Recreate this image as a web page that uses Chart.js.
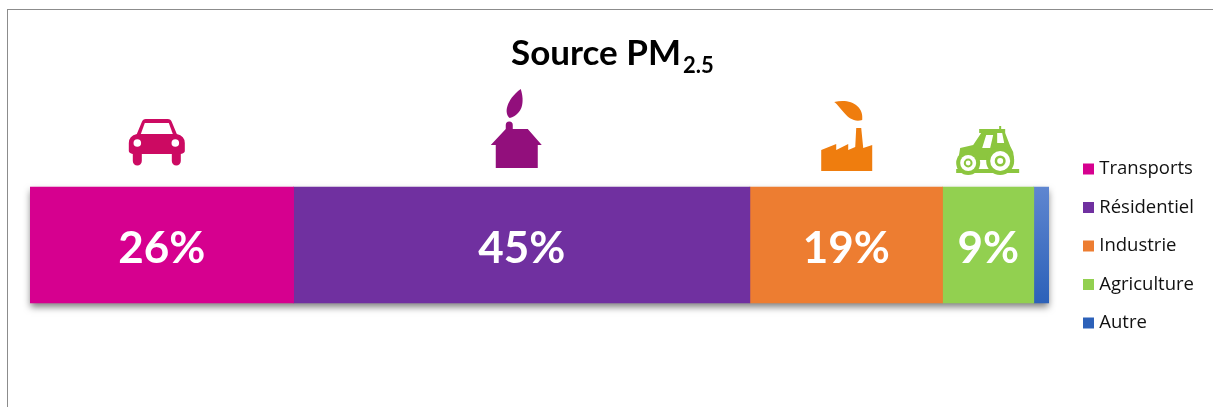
<!DOCTYPE html>
<html lang="fr">
<head>
<meta charset="utf-8">
<title>Source PM2.5</title>
<script src="https://cdn.jsdelivr.net/npm/chart.js@4"></script>
<style>
  html, body { margin: 0; padding: 0; background: #fff; }
  #wrap { position: relative; width: 1213px; height: 407px; overflow: hidden; }
  #frame { position: absolute; left: 7px; top: 9px; width: 1300px; height: 500px;
           border-left: 1px solid #8c8c8c; border-top: 1px solid #8c8c8c; }
  canvas { position: absolute; left: 0; top: 0; }
</style>
</head>
<body>
<div id="wrap">
  <div id="frame"></div>
  <canvas id="chart" width="1213" height="407"></canvas>
</div>
<script>
// Data
const categories = ['Source PM2.5'];
const sources = ['Transports', 'Résidentiel', 'Industrie', 'Agriculture', 'Autre'];
const shares = [26, 45, 19, 9, 1.5];
const colors = ['#d6008f', '#7030a0', '#ed7d31', '#92d050', '#4472c4'];
const iconColors = ['#cc0a62', '#920f7c', '#ef7d0e', '#8cc63f'];
const titleMain = 'Source PM';
const titleSub = '2.5';

const canvas = document.getElementById('chart');
const ctx = canvas.getContext('2d');
const total = shares.reduce((a, b) => a + b, 0);

// Last segment fades from light to dark blue
const autreFill = ctx.createLinearGradient(0, 187, 0, 303);
autreFill.addColorStop(0, '#5f86d0');
autreFill.addColorStop(1, '#2c61b9');
colors[4] = autreFill;

function car(c) {
  c.beginPath();
  c.moveTo(137, 134);
  c.lineTo(142, 122);
  c.quadraticCurveTo(143, 119, 146, 119);
  c.lineTo(168, 119);
  c.quadraticCurveTo(171, 119, 172, 122);
  c.lineTo(177, 134);
  c.quadraticCurveTo(185, 136, 185, 143);
  c.lineTo(185, 151);
  c.quadraticCurveTo(185, 153, 181, 154);
  c.lineTo(181, 161);
  c.arc(176.5, 161, 4.5, 0, Math.PI);
  c.lineTo(172, 154);
  c.lineTo(142, 154);
  c.lineTo(142, 161);
  c.arc(137.5, 161, 4.5, 0, Math.PI);
  c.lineTo(133, 154);
  c.quadraticCurveTo(129, 153, 129, 151);
  c.lineTo(129, 143);
  c.quadraticCurveTo(129, 136, 137, 134);
  c.closePath();
  c.fill();
  c.fillStyle = '#fff';
  c.beginPath();
  c.moveTo(141, 134);
  c.lineTo(145, 123);
  c.lineTo(169, 123);
  c.lineTo(173, 134);
  c.closePath();
  c.fill();
  c.beginPath();
  c.arc(137.5, 143, 3.8, 0, Math.PI * 2);
  c.arc(175.5, 143, 3.8, 0, Math.PI * 2);
  c.fill();
}

function house(c) {
  c.beginPath();
  c.moveTo(491, 145);
  c.lineTo(506, 129);
  c.lineTo(506, 126);
  c.arc(509.5, 125, 3.5, Math.PI, 0);
  c.lineTo(513, 129);
  c.lineTo(528, 129);
  c.lineTo(542, 145);
  c.lineTo(538, 145);
  c.lineTo(538, 168);
  c.lineTo(496, 168);
  c.lineTo(496, 145);
  c.closePath();
  c.fill();
  // flame
  c.beginPath();
  c.moveTo(510, 118);
  c.bezierCurveTo(504, 114, 506, 100, 521, 89);
  c.bezierCurveTo(525, 102, 523, 114, 510, 118);
  c.closePath();
  c.fill();
}

function factory(c) {
  c.beginPath();
  c.moveTo(821, 171);
  c.lineTo(821, 150);
  c.lineTo(836, 144);
  c.lineTo(836, 150);
  c.lineTo(848, 144);
  c.lineTo(848, 150);
  c.lineTo(855, 147);
  c.lineTo(856, 128);
  c.lineTo(861, 128);
  c.lineTo(863, 148);
  c.lineTo(872, 145);
  c.lineTo(872, 171);
  c.closePath();
  c.fill();
  // leaf
  c.beginPath();
  c.moveTo(834, 102);
  c.bezierCurveTo(850, 98, 864, 106, 862, 120);
  c.bezierCurveTo(848, 124, 842, 108, 834, 102);
  c.closePath();
  c.fill();
}

function tractor(c) {
  c.fillRect(956, 169, 63, 4);
  c.beginPath();
  c.moveTo(979, 129);
  c.lineTo(999, 129);
  c.lineTo(999, 126);
  c.lineTo(1001, 126);
  c.lineTo(1001, 129);
  c.lineTo(1005, 129);
  c.lineTo(1005, 133);
  c.lineTo(1010, 146);
  c.lineTo(1013, 152);
  c.lineTo(1014, 160);
  c.lineTo(958, 160);
  c.lineTo(960, 148);
  c.lineTo(973, 145);
  c.lineTo(981, 133);
  c.lineTo(979, 133);
  c.closePath();
  c.fill();
  c.beginPath();
  c.arc(1000, 161, 14, 0, Math.PI * 2);
  c.fill();
  c.beginPath();
  c.arc(968, 163, 12, 0, Math.PI * 2);
  c.fill();
  c.fillStyle = '#fff';
  c.beginPath();
  c.moveTo(986, 135);
  c.lineTo(993, 135);
  c.lineTo(990, 148);
  c.lineTo(982, 148);
  c.closePath();
  c.moveTo(997, 133);
  c.lineTo(1002, 133);
  c.lineTo(1004, 143);
  c.lineTo(997, 143);
  c.closePath();
  c.fill();
  [[1000, 161, 10], [968, 163, 8]].forEach(w => {
    c.fillStyle = '#fff';
    c.beginPath();
    c.arc(w[0], w[1], w[2], 0, Math.PI * 2);
    c.fill();
    c.fillStyle = iconColors[3];
    c.beginPath();
    c.arc(w[0], w[1], w[2] * 0.55, 0, Math.PI * 2);
    c.fill();
    c.fillStyle = '#fff';
    c.beginPath();
    c.arc(w[0], w[1], w[2] * 0.3, 0, Math.PI * 2);
    c.fill();
  });
}

// Icon sketches are written around the segment centres of the picture
const icons = [
  { draw: car, ref: 162 },
  { draw: house, ref: 522 },
  { draw: factory, ref: 846 },
  { draw: tractor, ref: 988 }
];

const barExtras = {
  id: 'barExtras',
  // push the legend away from the bar, padding alone moves both
  afterLayout(chart) {
    chart.legend.left += 18;
    chart.legend.right += 18;
    chart.legend.top += 1;
    chart.legend.bottom += 1;
  },
  beforeDatasetsDraw(chart) {
    const c = chart.ctx;
    const first = chart.getDatasetMeta(0).data[0];
    const x = chart.scales.x;
    const top = first.y - first.height / 2;
    c.save();
    c.shadowColor = 'rgba(0, 0, 0, 0.5)';
    c.shadowBlur = 7;
    c.shadowOffsetY = 4;
    c.fillStyle = '#888';
    c.fillRect(x.getPixelForValue(0), top, x.getPixelForValue(total) - x.getPixelForValue(0), first.height);
    c.restore();
  },
  afterDatasetsDraw(chart) {
    const c = chart.ctx;
    c.save();
    c.textAlign = 'center';
    c.textBaseline = 'middle';
    c.font = 'bold 44px Lato';
    c.fillStyle = '#fff';
    shares.forEach((v, i) => {
      const bar = chart.getDatasetMeta(i).data[0];
      const cx = (bar.base + bar.x) / 2;
      if (v >= 5) c.fillText(v + '%', cx, bar.y + 4);
      const icon = icons[i];
      if (icon) {
        c.save();
        c.translate(cx - icon.ref, bar.y - bar.height / 2 - 187);
        c.fillStyle = iconColors[i];
        icon.draw(c);
        c.restore();
      }
    });
    // Title with subscript
    c.textAlign = 'left';
    c.textBaseline = 'alphabetic';
    c.fillStyle = '#000';
    c.font = 'bold 35px Lato';
    c.fillText(titleMain, 511, 65);
    const w = c.measureText(titleMain).width;
    c.font = 'bold 22px Lato';
    c.fillText(titleSub, 511 + w + 2, 73);
    c.restore();
  }
};

new Chart(canvas, {
  type: 'bar',
  plugins: [barExtras],
  data: {
    labels: categories,
    datasets: sources.map((name, i) => ({
      label: name,
      data: [shares[i]],
      backgroundColor: colors[i],
      borderWidth: 0,
      barThickness: 116
    }))
  },
  options: {
    indexAxis: 'y',
    responsive: false,
    animation: false,
    events: [],
    layout: { padding: { left: 30, top: 130, bottom: 47, right: 27 } },
    plugins: {
      title: { display: false },
      tooltip: { enabled: false },
      legend: {
        position: 'right',
        labels: {
          usePointStyle: true,
          pointStyle: 'rect',
          boxWidth: 3,
          boxHeight: 11,
          padding: 20,
          color: '#111',
          font: { family: 'Open Sans', size: 18.5 }
        }
      }
    },
    scales: {
      x: { stacked: true, display: false, min: 0, max: total },
      y: { stacked: true, display: false }
    }
  }
});
</script>
</body>
</html>
